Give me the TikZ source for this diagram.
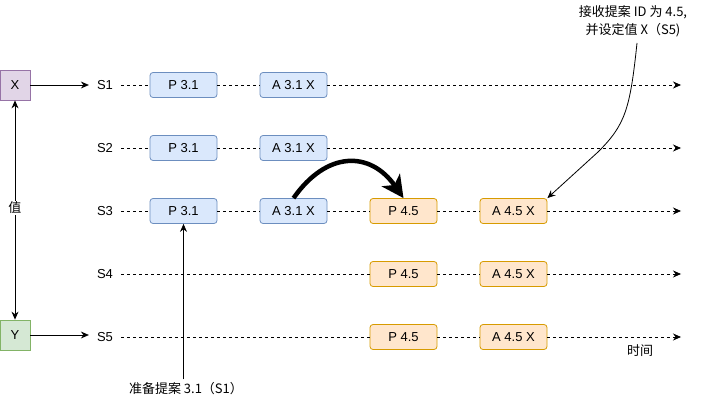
\documentclass[tikz,border=0pt]{standalone}
\usepackage{fontspec}
\setmainfont{Liberation Sans}
\newfontfamily\cjk{Noto Sans CJK SC}
\usetikzlibrary{arrows.meta}
\definecolor{bfill}{HTML}{DAE8FC}
\definecolor{bdraw}{HTML}{6C8EBF}
\definecolor{ofill}{HTML}{FFE6CC}
\definecolor{odraw}{HTML}{D79B00}
\definecolor{xfill}{HTML}{E1D5E7}
\definecolor{xdraw}{HTML}{9673A6}
\definecolor{yfill}{HTML}{D5E8D4}
\definecolor{ydraw}{HTML}{82B366}
\begin{document}
\begin{tikzpicture}[x=1pt,y=-1pt,font=\fontsize{13}{15}\selectfont,
  boxbase/.style={rounded corners=3pt,minimum width=67pt,minimum height=25pt,inner sep=0pt,line width=0.8pt},
  pbox/.style={boxbase,draw=bdraw,fill=bfill},
  obox/.style={boxbase,draw=odraw,fill=ofill},
  sqbox/.style={minimum width=30pt,minimum height=30pt,inner sep=0pt,line width=0.8pt},
  slabel/.style={inner xsep=8pt,inner ysep=2pt},
  dline/.style={dash pattern=on 3pt off 3pt,line width=0.8pt},
  arr/.style={-{Stealth[length=8pt,width=7pt]},line width=0.8pt},
  txt/.style={font=\cjk\fontsize{13}{18}\selectfont}
]
\useasboundingbox (0,0) rectangle (711,401);

% X and Y
\node[sqbox,draw=xdraw,fill=xfill] (X) at (15,85) {X};
\node[sqbox,draw=ydraw,fill=yfill] (Y) at (15,335) {Y};
\draw[{Stealth[length=8pt,width=7pt]}-{Stealth[length=8pt,width=7pt]},line width=0.8pt] (X.south) -- node[pos=0.49,fill=white,inner sep=1pt,txt] (val) {值} (Y.north);

% rows
\foreach \i/\y in {1/85,2/148,3/211,4/274,5/337}{
  \node[slabel] (s\i) at (105,\y) {S\i};
  \coordinate (e\i) at (681,\y);
}
\draw[arr] (X.east) -- (s1.west);
\draw[arr] (Y.east) -- (Y.east -| s5.west);

% boxes
\foreach \i/\y in {1/85,2/148,3/211}{
  \node[pbox] (p\i) at (183.5,\y) {P 3.1};
  \node[pbox] (a\i) at (293.5,\y) {A 3.1 X};
}
\foreach \i/\y in {3/211,4/274,5/337}{
  \node[obox] (q\i) at (403.5,\y) {P 4.5};
  \node[obox] (r\i) at (513.5,\y) {A 4.5 X};
}

% dashed time lines
\foreach \i in {1,2}{
  \draw[dline] (s\i) -- (p\i);
  \draw[dline] (p\i) -- (a\i);
  \draw[dline,-{Stealth[length=8pt,width=7pt]}] (a\i) -- (e\i);
}
\draw[dline] (s3) -- (p3);
\draw[dline] (p3) -- (a3);
\draw[dline] (a3) -- (q3);
\foreach \i in {3,4,5}{
  \draw[dline] (q\i) -- (r\i);
  \draw[dline,-{Stealth[length=8pt,width=7pt]}] (r\i) -- (e\i);
}
\draw[dline] (s4) -- (q4);
\draw[dline] (s5) -- (q5);

% thick curved arrow
\draw[line width=4.5pt,-{Stealth[length=22pt,width=22pt,inset=6pt]}] (a3.north) to[out=55,in=125,looseness=1.35] (q3.north);

% annotations
\node[txt,align=center] (top) at (633,21) {接收提案 ID 为 4.5,\\并设定值 X（S5)};
\coordinate (t0) at (637,43);
\draw[arr] (t0) .. controls (630,110) and (625,125) .. (598,152) -- (r3.north east);

\node[txt] (prep) at (186,389) {准备提案 3.1（S1）};
\draw[arr] (prep.north -| p3.south) -- (p3.south);

\node[txt] (time) at (640,351) {时间};
\end{tikzpicture}
\end{document}
